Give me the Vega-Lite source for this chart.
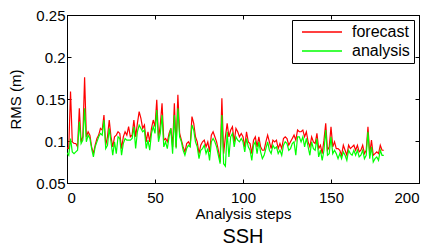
{
"$schema": "https://vega.github.io/schema/vega-lite/v6.json",
"width": 352, "height": 168,
"autosize": {"type": "none"},
"padding": {"left": 67, "top": 15, "right": 16, "bottom": 68},
"background": "white",
"config": {
  "font": "Liberation Sans",
  "view": {"stroke": "black", "strokeWidth": 1},
  "axis": {"domainColor": "black", "tickColor": "black", "labelColor": "black", "titleColor": "black", "grid": false, "labelFontSize": 15, "titleFontSize": 15, "titleFontWeight": "normal", "tickSize": -4, "domainWidth": 1, "tickWidth": 1}
},
"title": {"text": "SSH", "orient": "bottom", "fontSize": 20, "fontWeight": "normal", "color": "black", "offset": 6},
"data": {"values": [
{"step":0,"forecast":0.092,"analysis":0.086},
{"step":1,"forecast":0.091,"analysis":0.083},
{"step":2,"forecast":0.159,"analysis":0.103},
{"step":3,"forecast":0.099,"analysis":0.087},
{"step":4,"forecast":0.097,"analysis":0.085},
{"step":5,"forecast":0.097,"analysis":0.087},
{"step":6,"forecast":0.093,"analysis":0.089},
{"step":7,"forecast":0.139,"analysis":0.123},
{"step":8,"forecast":0.099,"analysis":0.097},
{"step":9,"forecast":0.105,"analysis":0.101},
{"step":10,"forecast":0.176,"analysis":0.139},
{"step":11,"forecast":0.105,"analysis":0.099},
{"step":12,"forecast":0.111,"analysis":0.107},
{"step":13,"forecast":0.107,"analysis":0.103},
{"step":14,"forecast":0.093,"analysis":0.091},
{"step":15,"forecast":0.085,"analysis":0.081},
{"step":16,"forecast":0.095,"analysis":0.093},
{"step":17,"forecast":0.103,"analysis":0.099},
{"step":18,"forecast":0.107,"analysis":0.105},
{"step":19,"forecast":0.115,"analysis":0.109},
{"step":20,"forecast":0.113,"analysis":0.107},
{"step":21,"forecast":0.131,"analysis":0.125},
{"step":22,"forecast":0.095,"analysis":0.091},
{"step":23,"forecast":0.105,"analysis":0.095},
{"step":24,"forecast":0.125,"analysis":0.115},
{"step":25,"forecast":0.105,"analysis":0.099},
{"step":26,"forecast":0.093,"analysis":0.083},
{"step":27,"forecast":0.105,"analysis":0.099},
{"step":28,"forecast":0.107,"analysis":0.085},
{"step":29,"forecast":0.111,"analysis":0.105},
{"step":30,"forecast":0.109,"analysis":0.103},
{"step":31,"forecast":0.091,"analysis":0.083},
{"step":32,"forecast":0.105,"analysis":0.097},
{"step":33,"forecast":0.111,"analysis":0.103},
{"step":34,"forecast":0.107,"analysis":0.101},
{"step":35,"forecast":0.117,"analysis":0.101},
{"step":36,"forecast":0.105,"analysis":0.101},
{"step":37,"forecast":0.107,"analysis":0.103},
{"step":38,"forecast":0.125,"analysis":0.117},
{"step":39,"forecast":0.105,"analysis":0.091},
{"step":40,"forecast":0.121,"analysis":0.111},
{"step":41,"forecast":0.135,"analysis":0.119},
{"step":42,"forecast":0.127,"analysis":0.115},
{"step":43,"forecast":0.115,"analysis":0.111},
{"step":44,"forecast":0.119,"analysis":0.113},
{"step":45,"forecast":0.099,"analysis":0.091},
{"step":46,"forecast":0.111,"analysis":0.101},
{"step":47,"forecast":0.099,"analysis":0.089},
{"step":48,"forecast":0.115,"analysis":0.109},
{"step":49,"forecast":0.125,"analysis":0.117},
{"step":50,"forecast":0.117,"analysis":0.109},
{"step":51,"forecast":0.149,"analysis":0.137},
{"step":52,"forecast":0.103,"analysis":0.099},
{"step":53,"forecast":0.119,"analysis":0.109},
{"step":54,"forecast":0.145,"analysis":0.131},
{"step":55,"forecast":0.101,"analysis":0.093},
{"step":56,"forecast":0.103,"analysis":0.099},
{"step":57,"forecast":0.099,"analysis":0.091},
{"step":58,"forecast":0.109,"analysis":0.105},
{"step":59,"forecast":0.115,"analysis":0.115},
{"step":60,"forecast":0.093,"analysis":0.085},
{"step":61,"forecast":0.145,"analysis":0.131},
{"step":62,"forecast":0.093,"analysis":0.091},
{"step":63,"forecast":0.155,"analysis":0.139},
{"step":64,"forecast":0.109,"analysis":0.105},
{"step":65,"forecast":0.101,"analysis":0.099},
{"step":66,"forecast":0.093,"analysis":0.089},
{"step":67,"forecast":0.087,"analysis":0.083},
{"step":68,"forecast":0.097,"analysis":0.091},
{"step":69,"forecast":0.099,"analysis":0.095},
{"step":70,"forecast":0.095,"analysis":0.093},
{"step":71,"forecast":0.129,"analysis":0.119},
{"step":72,"forecast":0.121,"analysis":0.113},
{"step":73,"forecast":0.105,"analysis":0.099},
{"step":74,"forecast":0.099,"analysis":0.093},
{"step":75,"forecast":0.085,"analysis":0.079},
{"step":76,"forecast":0.095,"analysis":0.089},
{"step":77,"forecast":0.099,"analysis":0.091},
{"step":78,"forecast":0.101,"analysis":0.095},
{"step":79,"forecast":0.093,"analysis":0.085},
{"step":80,"forecast":0.099,"analysis":0.091},
{"step":81,"forecast":0.087,"analysis":0.077},
{"step":82,"forecast":0.107,"analysis":0.099},
{"step":83,"forecast":0.111,"analysis":0.103},
{"step":84,"forecast":0.105,"analysis":0.099},
{"step":85,"forecast":0.099,"analysis":0.093},
{"step":86,"forecast":0.089,"analysis":0.083},
{"step":87,"forecast":0.075,"analysis":0.073},
{"step":88,"forecast":0.151,"analysis":0.131},
{"step":89,"forecast":0.085,"analysis":0.073},
{"step":90,"forecast":0.105,"analysis":0.070},
{"step":91,"forecast":0.121,"analysis":0.111},
{"step":92,"forecast":0.105,"analysis":0.081},
{"step":93,"forecast":0.113,"analysis":0.105},
{"step":94,"forecast":0.117,"analysis":0.109},
{"step":95,"forecast":0.099,"analysis":0.093},
{"step":96,"forecast":0.115,"analysis":0.105},
{"step":97,"forecast":0.111,"analysis":0.101},
{"step":98,"forecast":0.105,"analysis":0.099},
{"step":99,"forecast":0.109,"analysis":0.103},
{"step":100,"forecast":0.105,"analysis":0.099},
{"step":101,"forecast":0.093,"analysis":0.087},
{"step":102,"forecast":0.111,"analysis":0.103},
{"step":103,"forecast":0.099,"analysis":0.093},
{"step":104,"forecast":0.097,"analysis":0.089},
{"step":105,"forecast":0.085,"analysis":0.077},
{"step":106,"forecast":0.101,"analysis":0.095},
{"step":107,"forecast":0.105,"analysis":0.099},
{"step":108,"forecast":0.093,"analysis":0.085},
{"step":109,"forecast":0.105,"analysis":0.099},
{"step":110,"forecast":0.093,"analysis":0.087},
{"step":111,"forecast":0.089,"analysis":0.079},
{"step":112,"forecast":0.089,"analysis":0.083},
{"step":113,"forecast":0.099,"analysis":0.091},
{"step":114,"forecast":0.107,"analysis":0.099},
{"step":115,"forecast":0.099,"analysis":0.089},
{"step":116,"forecast":0.091,"analysis":0.085},
{"step":117,"forecast":0.101,"analysis":0.095},
{"step":118,"forecast":0.099,"analysis":0.091},
{"step":119,"forecast":0.101,"analysis":0.093},
{"step":120,"forecast":0.091,"analysis":0.085},
{"step":121,"forecast":0.097,"analysis":0.089},
{"step":122,"forecast":0.091,"analysis":0.083},
{"step":123,"forecast":0.103,"analysis":0.095},
{"step":124,"forecast":0.105,"analysis":0.099},
{"step":125,"forecast":0.103,"analysis":0.097},
{"step":126,"forecast":0.095,"analysis":0.089},
{"step":127,"forecast":0.099,"analysis":0.091},
{"step":128,"forecast":0.103,"analysis":0.097},
{"step":129,"forecast":0.107,"analysis":0.099},
{"step":130,"forecast":0.101,"analysis":0.083},
{"step":131,"forecast":0.113,"analysis":0.105},
{"step":132,"forecast":0.111,"analysis":0.105},
{"step":133,"forecast":0.111,"analysis":0.099},
{"step":134,"forecast":0.113,"analysis":0.105},
{"step":135,"forecast":0.105,"analysis":0.093},
{"step":136,"forecast":0.111,"analysis":0.103},
{"step":137,"forecast":0.099,"analysis":0.093},
{"step":138,"forecast":0.093,"analysis":0.083},
{"step":139,"forecast":0.105,"analysis":0.099},
{"step":140,"forecast":0.099,"analysis":0.091},
{"step":141,"forecast":0.097,"analysis":0.089},
{"step":142,"forecast":0.109,"analysis":0.103},
{"step":143,"forecast":0.091,"analysis":0.081},
{"step":144,"forecast":0.095,"analysis":0.089},
{"step":145,"forecast":0.085,"analysis":0.077},
{"step":146,"forecast":0.101,"analysis":0.089},
{"step":147,"forecast":0.121,"analysis":0.113},
{"step":148,"forecast":0.089,"analysis":0.083},
{"step":149,"forecast":0.093,"analysis":0.085},
{"step":150,"forecast":0.117,"analysis":0.105},
{"step":151,"forecast":0.093,"analysis":0.085},
{"step":152,"forecast":0.099,"analysis":0.089},
{"step":153,"forecast":0.091,"analysis":0.085},
{"step":154,"forecast":0.091,"analysis":0.079},
{"step":155,"forecast":0.089,"analysis":0.085},
{"step":156,"forecast":0.083,"analysis":0.079},
{"step":157,"forecast":0.095,"analysis":0.087},
{"step":158,"forecast":0.089,"analysis":0.083},
{"step":159,"forecast":0.083,"analysis":0.077},
{"step":160,"forecast":0.095,"analysis":0.089},
{"step":161,"forecast":0.091,"analysis":0.085},
{"step":162,"forecast":0.093,"analysis":0.083},
{"step":163,"forecast":0.095,"analysis":0.089},
{"step":164,"forecast":0.089,"analysis":0.083},
{"step":165,"forecast":0.095,"analysis":0.089},
{"step":166,"forecast":0.087,"analysis":0.081},
{"step":167,"forecast":0.089,"analysis":0.083},
{"step":168,"forecast":0.095,"analysis":0.089},
{"step":169,"forecast":0.085,"analysis":0.079},
{"step":170,"forecast":0.089,"analysis":0.083},
{"step":171,"forecast":0.117,"analysis":0.111},
{"step":172,"forecast":0.085,"analysis":0.079},
{"step":173,"forecast":0.101,"analysis":0.093},
{"step":174,"forecast":0.083,"analysis":0.075},
{"step":175,"forecast":0.085,"analysis":0.079},
{"step":176,"forecast":0.087,"analysis":0.081},
{"step":177,"forecast":0.085,"analysis":0.077},
{"step":178,"forecast":0.095,"analysis":0.089},
{"step":179,"forecast":0.089,"analysis":0.083},
{"step":180,"forecast":0.089,"analysis":0.083}
]},
"transform": [{"fold": ["forecast", "analysis"], "as": ["series", "rms"]}],
"layer": [
  {
    "mark": {"type": "line", "strokeWidth": 1.2, "clip": true},
    "encoding": {
      "x": {"field": "step", "type": "quantitative", "scale": {"domain": [0, 200], "nice": false},
            "axis": {"values": [0, 50, 100, 150, 200], "title": "Analysis steps", "labelPadding": 11, "titlePadding": 1}},
      "y": {"field": "rms", "type": "quantitative", "scale": {"domain": [0.05, 0.25], "nice": false, "zero": false},
            "axis": {"values": [0.05, 0.1, 0.15, 0.2, 0.25], "format": ".2~f", "title": "RMS (m)", "labelPadding": 6, "titlePadding": 12}},
      "color": {"field": "series", "type": "nominal",
                "scale": {"domain": ["forecast", "analysis"], "range": ["#ff0000", "#00ff00"]},
                "legend": {"title": null, "orient": "top-right", "offset": 5, "strokeColor": "black", "fillColor": "white", "padding": 4,
                           "symbolType": "M-3,0H3", "symbolSize": 178, "symbolStrokeWidth": 1.5, "symbolOffset": 18, "labelFontSize": 16, "labelColor": "black", "rowPadding": 3, "labelOffset": 22, "cornerRadius": 0,
                           "symbolOpacity": 1}}
    }
  },
  {
    "mark": {"type": "line", "opacity": 0},
    "encoding": {
      "x": {"field": "step", "type": "quantitative", "axis": {"orient": "top", "values": [0, 50, 100, 150, 200], "labels": false, "title": null}},
      "y": {"field": "rms", "type": "quantitative", "axis": {"orient": "right", "values": [0.05, 0.1, 0.15, 0.2, 0.25], "labels": false, "title": null}},
      "detail": {"field": "series"}
    }
  }
],
"resolve": {"axis": {"x": "independent", "y": "independent"}}
}
